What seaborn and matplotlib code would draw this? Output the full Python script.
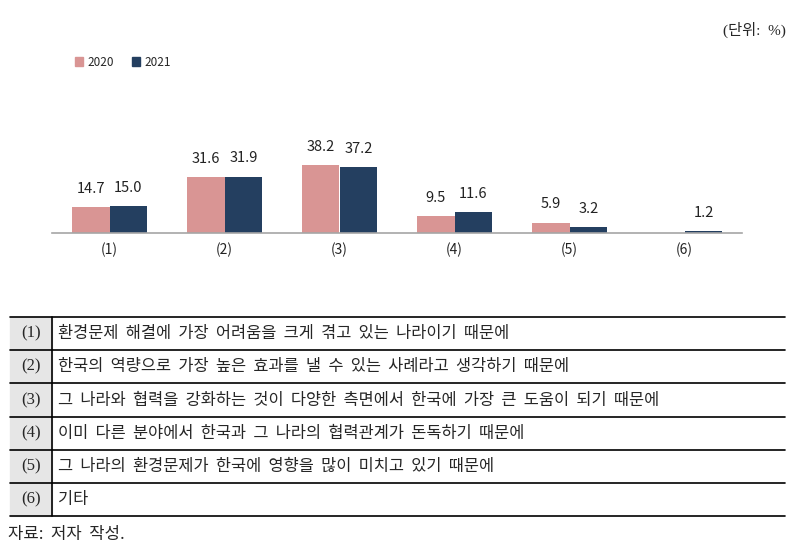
import seaborn as sns
import matplotlib.pyplot as plt
import pandas as pd
import numpy as np
from matplotlib.patches import Rectangle
from matplotlib.lines import Line2D

sns.set_style('white')
plt.rcParams['font.family'] = ['Noto Sans CJK KR', 'DejaVu Sans']

# 데이터
items = ["(1)", "(2)", "(3)", "(4)", "(5)", "(6)"]
years = ["2020", "2021"]
val_2020 = [14.7, 31.6, 38.2, 9.5, 5.9, np.nan]
val_2021 = [15.0, 31.9, 37.2, 11.6, 3.2, 1.2]
reasons = [
    "환경문제 해결에 가장 어려움을 크게 겪고 있는 나라이기 때문에",
    "한국의 역량으로 가장 높은 효과를 낼 수 있는 사례라고 생각하기 때문에",
    "그 나라와 협력을 강화하는 것이 다양한 측면에서 한국에 가장 큰 도움이 되기 때문에",
    "이미 다른 분야에서 한국과 그 나라의 협력관계가 돈독하기 때문에",
    "그 나라의 환경문제가 한국에 영향을 많이 미치고 있기 때문에",
    "기타",
]
colors = ["#d99594", "#243f60"]

df = pd.DataFrame({
    "item": items * 2,
    "year": [years[0]] * 6 + [years[1]] * 6,
    "value": val_2020 + val_2021,
})
df["value"] = df["value"].fillna(0)  # (6) 2020 응답 없음

W, H = 801, 558
fig = plt.figure(figsize=(W / 100, H / 100), dpi=100)

def fx(px):
    return px / W

def fy(py):
    return 1 - py / H

def wide(s):
    # 원본 표처럼 띄어쓰기를 넓게
    return s.replace(" ", "  ")

# 막대그래프
ax = fig.add_axes([fx(52), fy(233), fx(742) - fx(52), (70.8) / H])
sns.barplot(data=df, x="item", y="value", hue="year", palette=colors,
            width=0.66, ax=ax, legend=False, saturation=1, linewidth=0, edgecolor="none")
ax.set_xlim(-0.5, 5.5)
ax.set_ylim(0, 40)
for cont, vals in zip(ax.containers, [val_2020, val_2021]):
    labs = ["" if np.isnan(v) else f"{v:.1f}" for v in vals]
    ax.bar_label(cont, labels=labs, padding=8, fontsize=10.5, color="#222222")
for s in ["top", "right", "left"]:
    ax.spines[s].set_visible(False)
ax.spines["bottom"].set_color("#a6a6a6")
ax.spines["bottom"].set_linewidth(1.2)
ax.set_yticks([])
ax.set_xlabel("")
ax.set_ylabel("")
ax.set_xticks(np.arange(-0.5, 6, 1), minor=True)
ax.tick_params(axis="x", which="major", length=0, pad=7, labelsize=10, labelcolor="#222222")
ax.tick_params(axis="x", which="minor", length=4, color="#a6a6a6", width=1, direction="out")

# 범례
handles = [Rectangle((0, 0), 1, 1, color=c) for c in colors]
fig.legend(handles, years, loc="center left", bbox_to_anchor=(fx(75), fy(62)),
           ncol=2, frameon=False, fontsize=8.5, handlelength=0.7, handleheight=0.7,
           handletextpad=0.35, columnspacing=1.5, borderpad=0, borderaxespad=0)

fig.text(fx(786), fy(30), "(단위:  %)", ha="right", va="center", fontsize=11,
         family=["Liberation Serif", "Noto Sans CJK KR"])

# 표
top, row_h = 317, 33.2
left, right, split = 10, 785, 52
fig.patches.append(Rectangle((fx(left), fy(top + 6 * row_h)), fx(split) - fx(left), 6 * row_h / H,
                             transform=fig.transFigure, color="#e6e6e6", zorder=0))
for i in range(7):
    y = fy(top + i * row_h)
    fig.add_artist(Line2D([fx(left), fx(right)], [y, y], color="black", lw=1.2))
fig.add_artist(Line2D([fx(split), fx(split)], [fy(top), fy(top + 6 * row_h)], color="black", lw=1.2))
for i, (it, r) in enumerate(zip(items, reasons)):
    yc = fy(top + (i + 0.5) * row_h)
    fig.text(fx(31), yc, it, ha="center", va="center", fontsize=12, family=["Liberation Serif"])
    fig.text(fx(58), yc, wide(r), ha="left", va="center", fontsize=11.8)

fig.text(fx(8), fy(535), wide("자료: 저자 작성."), ha="left", va="center", fontsize=12)

plt.savefig("out.png", dpi=100)
plt.close()
